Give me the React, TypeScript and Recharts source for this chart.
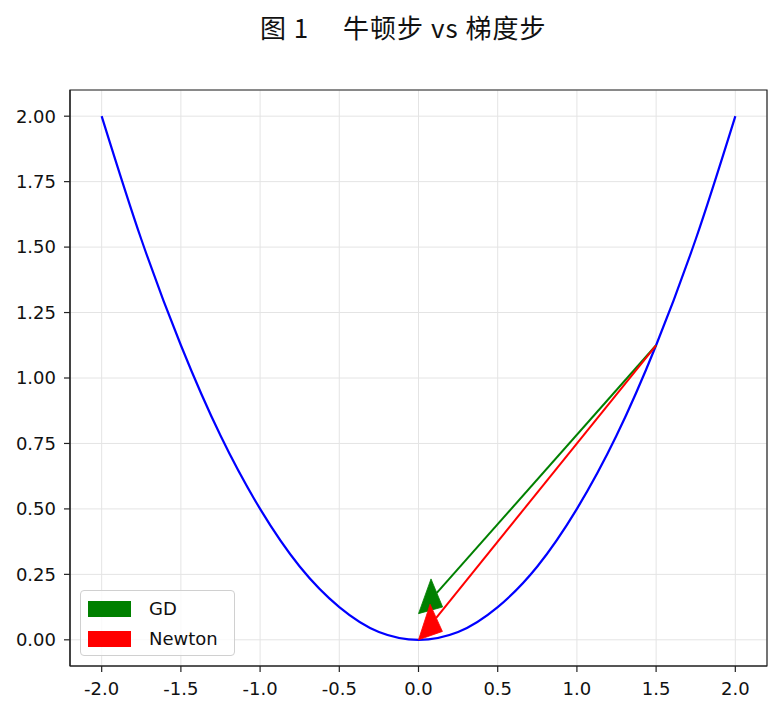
import { LineChart, Line, XAxis, YAxis, CartesianGrid, ReferenceLine, ReferenceArea } from 'recharts';

// 曲线上读出的点
const xValues = [-2, -1.75, -1.5, -1.25, -1, -0.75, -0.5, -0.25, 0, 0.25, 0.5, 0.75, 1, 1.25, 1.5, 1.75, 2];
const yValues = [2.0, 1.53, 1.125, 0.78, 0.5, 0.28, 0.125, 0.03, 0, 0.03, 0.125, 0.28, 0.5, 0.78, 1.125, 1.53, 2.0];

const xTicks = [-2, -1.5, -1, -0.5, 0, 0.5, 1, 1.5, 2];
const yTicks = [0, 0.25, 0.5, 0.75, 1, 1.25, 1.5, 1.75, 2];

// 箭头：起点相同，终点不同
const stepNames = ['GD', 'Newton'];
const stepColors = ['#008000', '#ff0000'];
const stepStart = { x: 1.5, y: 1.125 };
const stepEnds = [
    { x: 0, y: 0.1 },
    { x: 0, y: 0 },
];

const title = '图 1　 牛顿步 vs 梯度步';

const data = xValues.map((x, i) => ({ x, y: yValues[i] }));

const FONT = '"DejaVu Sans", sans-serif';
// 每个数据单位对应的像素（用来画在数据坐标里变形的箭头头部）
const SX = 697 / 4.4;
const SY = 576 / 2.2;

function arrowShape(color: string) {
    return (props: any) => {
        const { x1, y1, x2, y2 } = props;
        const dx = (x2 - x1) / SX;
        const dy = -(y2 - y1) / SY;
        const len = Math.hypot(dx, dy);
        const ux = dx / len;
        const uy = dy / len;
        const hl = 0.14;
        const hw = 0.065;
        const bx = -hl * ux;
        const by = -hl * uy;
        const c1x = bx - hw * uy;
        const c1y = by + hw * ux;
        const c2x = bx + hw * uy;
        const c2y = by - hw * ux;
        const toPx = (ox: number, oy: number) => `${x2 + ox * SX},${y2 - oy * SY}`;
        return (
            <g>
                <line x1={x1} y1={y1} x2={x2 + bx * SX} y2={y2 - by * SY} stroke={color} strokeWidth={2} />
                <polygon points={`${x2},${y2} ${toPx(c1x, c1y)} ${toPx(c2x, c2y)}`} fill={color} stroke={color} strokeWidth={0.8} />
            </g>
        );
    };
}

export default function App() {
    return (
        <div style={{ position: 'absolute', left: 0, top: 0, width: 782, height: 717, background: '#fff', fontFamily: FONT }}>
            <div style={{ position: 'absolute', left: 260, top: 11, whiteSpace: 'pre', fontSize: 26, letterSpacing: 1, lineHeight: '32px', fontWeight: 400, fontFamily: '"Noto Sans CJK SC", sans-serif', color: '#111' }}>
                {title}
            </div>
            <LineChart width={782} height={717} data={data} margin={{ top: 90, right: 15, bottom: 20, left: 8 }}>
                <CartesianGrid stroke="#e4e4e4" strokeWidth={1} />
                <XAxis
                    dataKey="x"
                    type="number"
                    domain={[-2.2, 2.2]}
                    ticks={xTicks}
                    tickFormatter={(v: number) => v.toFixed(1)}
                    height={31}
                    tickSize={6}
                    tickMargin={10}
                    tick={{ fill: '#111', fontSize: 18, fontFamily: FONT }}
                    axisLine={{ stroke: '#222', strokeWidth: 1.2 }}
                    tickLine={{ stroke: '#222', strokeWidth: 1.2 }}
                />
                <YAxis
                    type="number"
                    domain={[-0.1, 2.1]}
                    ticks={yTicks}
                    tickFormatter={(v: number) => v.toFixed(2)}
                    width={62}
                    tickSize={6}
                    tickMargin={8}
                    tick={{ fill: '#111', fontSize: 18, fontFamily: FONT }}
                    axisLine={{ stroke: '#222', strokeWidth: 1.2 }}
                    tickLine={{ stroke: '#222', strokeWidth: 1.2 }}
                />
                <ReferenceArea x1={-2.2} x2={2.2} y1={-0.1} y2={2.1} fill="none" stroke="#222" strokeWidth={1.2} />
                <Line dataKey="y" type="monotone" stroke="#0000ff" strokeWidth={2.2} dot={false} isAnimationActive={false} />
                {stepEnds.map((end, i) => (
                    <ReferenceLine
                        key={stepNames[i]}
                        segment={[stepStart, end]}
                        shape={arrowShape(stepColors[i])}
                    />
                ))}
            </LineChart>
            <div style={{ position: 'absolute', left: 80, top: 590, width: 153, height: 64, border: '1px solid #d0d0d0', borderRadius: 4, background: 'rgba(255,255,255,0.8)' }}>
                {stepNames.map((name, i) => (
                    <div key={name} style={{ position: 'absolute', left: 7, top: 9 + i * 30, height: 17, display: 'flex', alignItems: 'center' }}>
                        <div style={{ width: 43, height: 16, background: stepColors[i] }} />
                        <span style={{ marginLeft: 18, fontSize: 18, color: '#111' }}>{name}</span>
                    </div>
                ))}
            </div>
        </div>
    );
}
